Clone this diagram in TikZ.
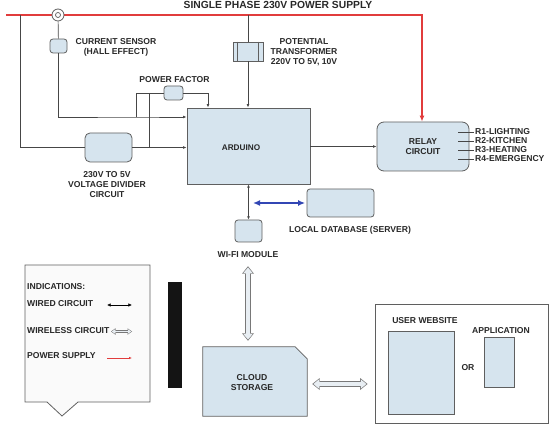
\documentclass[tikz,border=0pt]{standalone}
\usepackage{fontspec}
\setmainfont{Liberation Sans}
\usetikzlibrary{arrows.meta,calc}
\definecolor{boxfill}{RGB}{214,228,238}
\definecolor{boxdraw}{RGB}{95,95,95}
\definecolor{wirec}{RGB}{70,70,70}
\definecolor{pwrred}{RGB}{225,60,60}
\definecolor{bluec}{RGB}{50,70,180}
\definecolor{txt}{RGB}{40,40,40}
\definecolor{legfill}{RGB}{250,250,250}
\definecolor{hout}{RGB}{120,120,120}
\definecolor{hin}{RGB}{232,238,243}
\begin{document}
\begin{tikzpicture}[x=1pt,y=-1pt,
  every node/.style={font=\fontsize{8.6}{10}\selectfont\bfseries, text=txt, inner sep=0pt},
  box/.style={draw=boxdraw, fill=boxfill, line width=0.8pt},
  rbox/.style={box, rounded corners=3pt},
  wire/.style={draw=wirec, line width=0.7pt},
  arr/.style={wire, -{Latex[length=3.5pt,width=2.8pt]}},
  darr/.style={wire, {Latex[length=3.2pt,width=2.8pt]}-{Latex[length=3.2pt,width=2.8pt]}},
  ldarr/.style={draw=black, line width=0.6pt, {Latex[length=3.6pt,width=3.4pt]}-{Latex[length=3.6pt,width=3.4pt]}},
  pwr/.style={draw=pwrred, line width=1.3pt},
  hollowo/.style={draw=hout, line width=5.4pt, {Triangle[length=7.5pt,width=12pt,line width=0pt]}-{Triangle[length=7.5pt,width=12pt,line width=0pt]}},
  hollowi/.style={draw=hin, line width=3.6pt, {Triangle[length=5.6pt,width=9.2pt,line width=0pt]}-{Triangle[length=5.6pt,width=9.2pt,line width=0pt]}},
  lhollowo/.style={draw=hout, line width=3pt, {Triangle[length=4.5pt,width=6.5pt,line width=0pt]}-{Triangle[length=4.5pt,width=6.5pt,line width=0pt]}},
  lhollowi/.style={draw=hin, line width=1.6pt, {Triangle[length=3.2pt,width=4.5pt,line width=0pt]}-{Triangle[length=3.2pt,width=4.5pt,line width=0pt]}},
  bluearr/.style={draw=bluec, line width=2pt, {Latex[length=7pt,width=6pt]}-{Latex[length=7pt,width=6pt]}},
]
\useasboundingbox (0,0) rectangle (555,425);

% title and power line
\node (title) at (278,5) {\fontsize{10.3}{12}\selectfont SINGLE PHASE 230V POWER SUPPLY};
\coordinate (pL) at (6,15);
\coordinate (pTap) at (20,15);
\coordinate (pR) at (422,15);

% nodes
\node[rbox, minimum width=17pt, minimum height=14pt] (cs) at (58.5,46) {};
\node[align=center] (cslbl) at (116,47) {CURRENT SENSOR\\(HALL EFFECT)};
\node[rbox, minimum width=19pt, minimum height=14pt] (pf) at (173.5,93) {};
\node (pflbl) at (174.5,80) {POWER FACTOR};
\node[box, minimum width=123pt, minimum height=76pt] (ard) at (248.5,146) {};
\node[font=\fontsize{8.2}{10}\selectfont\bfseries] (ardlbl) at (241,148) {ARDUINO};
\node[box, minimum width=30pt, minimum height=19pt] (pt) at (248,51.5) {};
\draw[draw=boxdraw, line width=0.8pt] ([xshift=5pt]pt.north west) -- ([xshift=5pt]pt.south west);
\draw[draw=boxdraw, line width=0.8pt] ([xshift=-5pt]pt.north east) -- ([xshift=-5pt]pt.south east);
\node[align=center] (ptlbl) at (304,52) {POTENTIAL\\TRANSFORMER\\220V TO 5V, 10V};
\node[rbox, rounded corners=5pt, minimum width=47pt, minimum height=29pt] (vdiv) at (108.5,147.5) {};
\node[align=center] (vdivlbl) at (107,185) {230V TO 5V\\VOLTAGE DIVIDER\\CIRCUIT};
\node[rbox, rounded corners=7pt, minimum width=92pt, minimum height=49pt, align=center] (relay) at (423,146.5) {RELAY\\CIRCUIT};
\node[rbox, minimum width=27pt, minimum height=22pt] (wifi) at (248.5,231) {};
\node (wifilbl) at (248,255) {WI-FI MODULE};
\node[rbox, minimum width=67pt, minimum height=28pt] (db) at (340.5,203) {};
\node (dblbl) at (350,230) {LOCAL DATABASE (SERVER)};

% relay outputs
\coordinate (o1s) at (458,132);
\coordinate (o2s) at (458,141);
\coordinate (o3s) at (458,150);
\coordinate (o4s) at (458,159);
\node[anchor=west] (o1) at (475,132) {R1-LIGHTING};
\node[anchor=west] (o2) at (475,141) {R2-KITCHEN};
\node[anchor=west] (o3) at (475,150) {R3-HEATING};
\node[anchor=west] (o4) at (475,159) {R4-EMERGENCY};
\foreach \i in {1,2,3,4} \draw[wire, shorten >=1.5pt] (o\i s) -- (o\i s -| o\i.west);

% power wiring
\draw[pwr, -{Latex[length=6pt,width=5pt]}] (pL) -- (pR) -- (pR |- relay.north);
\node[circle, draw=boxdraw, fill=white, minimum size=12pt, line width=0.8pt] (coil) at (58,15) {};
\node[circle, draw=boxdraw, minimum size=5pt, line width=0.7pt] (coilin) at (58,15) {};
\draw[wire] (pTap) |- (vdiv.west);
\draw[wire] (coil) -- (cs);
\coordinate (j1) at (136,117);
\coordinate (j2) at (136,93);
\coordinate (j3) at (149,93);
\coordinate (j4) at (149,147.5);
\coordinate (j5) at (208,93);
\draw[arr] (cs.south) |- (j1) -- (j1 -| ard.west);
\draw[wire] (pf.west) -- (j2) -- (j1);
\draw[wire] (j3) -- (j4);
\draw[arr] (vdiv.east) -- (vdiv.east -| ard.west);
\draw[arr] (pf.east) -- (j5) -- (j5 |- ard.north);
\draw[wire] (pt.north |- pL) -- (pt.north);
\draw[arr] (pt.south) -- (pt.south |- ard.north);
\draw[arr] (ard.east |- relay.west) -- (relay.west);
\draw[darr] (ard.south -| wifi.north) -- (wifi.north);
\coordinate (bl) at (253,203);
\draw[bluearr, shorten >=1.5pt] (bl) -- (db.west);

% legend
\draw[draw=boxdraw, fill=legfill, line width=0.8pt] (25,265) -- (150,265) -- (150,402) -- (78,402) -- (62,416) -- (47,402) -- (25,402) -- cycle;
\node[anchor=west] (ind) at (27,287) {INDICATIONS:};
\node[anchor=west] (lw) at (27,304) {WIRED CIRCUIT};
\node[anchor=west] (lwl) at (27,331) {WIRELESS CIRCUIT};
\node[anchor=west] (lp) at (27,356) {POWER SUPPLY};
\coordinate (lwa) at (107,305);
\coordinate (lwb) at (132,305);
\coordinate (lwla) at (111,331.5);
\coordinate (lwlb) at (132,331.5);
\coordinate (lpa) at (107,358);
\coordinate (lpb) at (132,358);
\draw[ldarr] (lwa) -- (lwb);
\draw[lhollowo] (lwla) -- (lwlb);
\draw[lhollowi, shorten <=0.8pt, shorten >=0.8pt] (lwla) -- (lwlb);
\draw[draw=pwrred, line width=0.8pt, -{Latex[length=3pt,width=2.5pt]}] (lpa) -- (lpb);

% black bar
\node[fill=black!92, minimum width=14pt, minimum height=106pt] (bar) at (175,335) {};

% cloud
\node[minimum width=104pt, minimum height=69pt] (cloud) at (255,381.5) {};
\draw[box] (cloud.north west) -- ([xshift=-12pt]cloud.north east) -- ([yshift=-12pt]cloud.north east) -- (cloud.south east) -- (cloud.south west) -- cycle;
\node[align=center] (cloudlbl) at (252,383) {CLOUD\\STORAGE};

% user side
\node[draw=boxdraw, fill=white, line width=0.8pt, minimum width=173pt, minimum height=119pt] (user) at (461.5,363.5) {};
\node[box, minimum width=66pt, minimum height=83pt] (web) at (421,372.5) {};
\node (weblbl) at (425,321) {USER WEBSITE};
\node (or) at (468,368) {OR};
\node (applbl) at (501,331) {APPLICATION};
\node[box, minimum width=30pt, minimum height=50pt] (app) at (499,362) {};

% hollow connectors
\draw[hollowo, shorten <=8pt, shorten >=6pt] (wifilbl.south) -- (wifilbl.south |- cloud.north);
\draw[hollowi, shorten <=9.2pt, shorten >=7.2pt] (wifilbl.south) -- (wifilbl.south |- cloud.north);
\draw[hollowo, shorten <=5pt, shorten >=7pt] ([yshift=-2.5pt]cloud.east) -- ([yshift=-2.5pt]cloud.east -| user.west);
\draw[hollowi, shorten <=6.2pt, shorten >=8.2pt] ([yshift=-2.5pt]cloud.east) -- ([yshift=-2.5pt]cloud.east -| user.west);
\end{tikzpicture}
\end{document}
